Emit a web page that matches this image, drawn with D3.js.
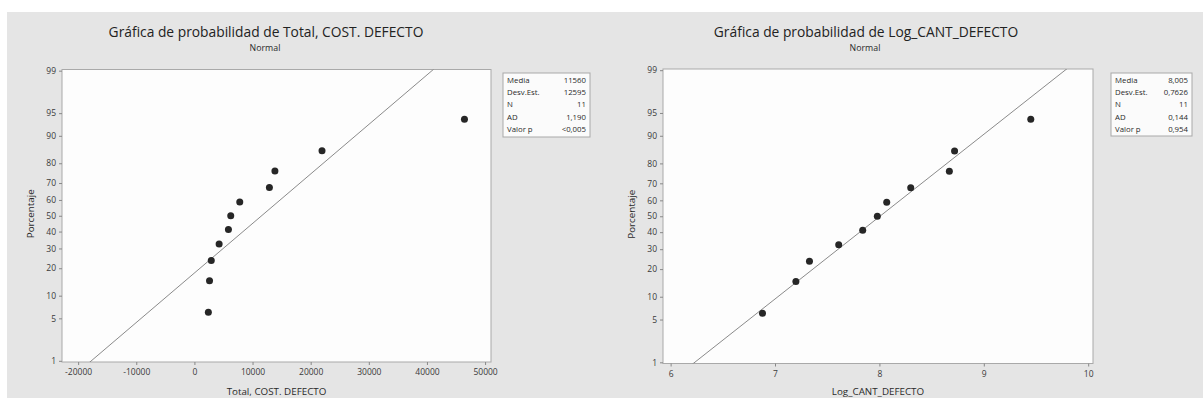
<!DOCTYPE html>
<html>
<head>
<meta charset="utf-8">
<script src="https://cdn.jsdelivr.net/npm/d3@7"></script>
<style>
  html, body { margin: 0; padding: 0; background: #ffffff; }
  svg { display: block; font-family: "Open Sans", "Noto Sans", sans-serif; }
</style>
</head>
<body>
<svg id="chart" width="1203" height="406"></svg>
<script>
// Ordered sample values for each probability plot
const costValues = [2400, 2600, 2900, 4250, 5850, 6250, 7800, 12900, 13850, 21950, 46450];
const logValues  = [6.88, 7.20, 7.33, 7.61, 7.84, 7.98, 8.07, 8.30, 8.67, 8.72, 9.45];
// Plotting positions (median ranks, %) for n = 11
const percents   = [6.1, 14.9, 23.7, 32.5, 41.2, 50.0, 58.8, 67.5, 76.3, 85.1, 93.9];

// Fitted normal parameters
const costFit = [11560, 12595];
const logFit  = [8.005, 0.7626];

// Summary table
const statLabels = ["Media", "Desv.Est.", "N", "AD", "Valor p"];
const costStats  = ["11560", "12595", "11", "1,190", "<0,005"];
const logStats   = ["8,005", "0,7626", "11", "0,144", "0,954"];

// Axis ticks
const percentTicks = [1, 5, 10, 20, 30, 40, 50, 60, 70, 80, 90, 95, 99];
const costTicks = [-20000, -10000, 0, 10000, 20000, 30000, 40000, 50000];
const logTicks  = [6, 7, 8, 9, 10];

// Inverse standard normal CDF (Acklam's rational approximation)
function probit(p) {
  const a = [-3.969683028665376e+01, 2.209460984245205e+02, -2.759285104469687e+02,
             1.383577518672690e+02, -3.066479806614716e+01, 2.506628277459239e+00];
  const b = [-5.447609879822406e+01, 1.615858368580409e+02, -1.556989798598866e+02,
             6.680131188771972e+01, -1.328068155288572e+01];
  const c = [-7.784894002430293e-03, -3.223964580411365e-01, -2.400758277161838e+00,
             -2.549671324505935e+00, 4.374664141464968e+00, 2.938163982698783e+00];
  const d = [7.784695709041462e-03, 3.224671290700398e-01, 2.445134137142996e+00,
             3.754408661907416e+00];
  const pl = 0.02425, ph = 1 - pl;
  let q, r;
  if (p < pl) {
    q = Math.sqrt(-2 * Math.log(p));
    return (((((c[0]*q+c[1])*q+c[2])*q+c[3])*q+c[4])*q+c[5]) /
           ((((d[0]*q+d[1])*q+d[2])*q+d[3])*q+1);
  }
  if (p <= ph) {
    q = p - 0.5; r = q * q;
    return (((((a[0]*r+a[1])*r+a[2])*r+a[3])*r+a[4])*r+a[5])*q /
           (((((b[0]*r+b[1])*r+b[2])*r+b[3])*r+b[4])*r+1);
  }
  q = Math.sqrt(-2 * Math.log(1 - p));
  return -(((((c[0]*q+c[1])*q+c[2])*q+c[3])*q+c[4])*q+c[5]) /
          ((((d[0]*q+d[1])*q+d[2])*q+d[3])*q+1);
}

const FONT = '"Open Sans", "Noto Sans", sans-serif';
const svg = d3.select("#chart");

// Grey page panel behind both graphs
svg.append("rect").attr("x", 7).attr("y", 12).attr("width", 1196).attr("height", 386)
  .attr("fill", "#e5e5e5");

const Z_MAX = 2.345;

function drawPlot(cfg) {
  const { x0, x1, y0, y1 } = cfg.frame;
  const g = svg.append("g");

  const x = d3.scaleLinear().domain(cfg.xDomain).range([x0, x1]);
  const z = d3.scaleLinear().domain([-Z_MAX, Z_MAX]).range([y1, y0]);
  const yOf = pct => z(probit(pct / 100));

  // plot area
  g.append("rect").attr("x", x0).attr("y", y0).attr("width", x1 - x0).attr("height", y1 - y0)
    .attr("fill", "#fdfdfd").attr("stroke", "#a9a9a9").attr("stroke-width", 1);

  // y axis (normal probability scale)
  const yAxis = d3.axisLeft(d3.scaleLinear().domain([y1, y0]).range([y1, y0]))
    .tickValues(percentTicks.map(yOf)).tickFormat((d, i) => percentTicks[i])
    .tickSize(3).tickPadding(3);
  const ya = g.append("g").attr("transform", `translate(${x0},0)`).call(yAxis)
    .attr("font-family", FONT);
  ya.select(".domain").remove();
  ya.selectAll("line").attr("stroke", "#888");
  ya.selectAll("text").attr("font-size", 8.5).attr("fill", "#3a3a3a");

  // x axis
  const xAxis = d3.axisBottom(x).tickValues(cfg.xTicks).tickFormat(d => String(d))
    .tickSize(3).tickPadding(4);
  const xa = g.append("g").attr("transform", `translate(0,${y1})`).call(xAxis)
    .attr("font-family", FONT);
  xa.select(".domain").remove();
  xa.selectAll("line").attr("stroke", "#888");
  xa.selectAll("text").attr("font-size", 8.5).attr("fill", "#3a3a3a");

  // fitted line, clipped to the plot area
  const clipId = "clip-" + cfg.id;
  g.append("clipPath").attr("id", clipId).append("rect")
    .attr("x", x0).attr("y", y0).attr("width", x1 - x0).attr("height", y1 - y0);
  const [mu, sd] = cfg.fit;
  const zs = [-3.5, 3.5];
  g.append("path")
    .attr("clip-path", `url(#${clipId})`)
    .attr("d", d3.line().x(v => x(mu + v * sd)).y(v => z(v))(zs))
    .attr("fill", "none").attr("stroke", "#8a8a8a").attr("stroke-width", 1);

  // data points
  g.selectAll("circle.pt").data(cfg.values).join("circle")
    .attr("class", "pt")
    .attr("cx", d => x(d))
    .attr("cy", (d, i) => yOf(percents[i]))
    .attr("r", 3.5)
    .attr("fill", "#262626");

  // titles
  g.append("text").attr("x", cfg.titleX).attr("y", 37).attr("text-anchor", "middle")
    .attr("font-size", 13.8).attr("fill", "#222").text(cfg.title);
  g.append("text").attr("x", cfg.titleX - 1).attr("y", 51).attr("text-anchor", "middle")
    .attr("font-size", 8.8).attr("fill", "#2a2a2a").text("Normal");
  g.append("text").attr("x", (x0 + x1) / 2).attr("y", 395).attr("text-anchor", "middle")
    .attr("font-size", 9.8).attr("fill", "#2a2a2a").text(cfg.xLabel);
  g.append("text")
    .attr("transform", `translate(${x0 - 28},${(y0 + y1) / 2 - 2}) rotate(-90)`)
    .attr("text-anchor", "middle").attr("font-size", 9.8).attr("fill", "#2a2a2a")
    .text("Porcentaje");

  // summary table
  const lb = cfg.legend;
  const lg = g.append("g");
  lg.append("rect").attr("x", lb.x).attr("y", lb.y).attr("width", lb.w).attr("height", lb.h)
    .attr("fill", "#fbfbfb").attr("stroke", "#a9a9a9");
  statLabels.forEach((s, i) => {
    const ty = lb.y + 10 + i * 12.2;
    lg.append("text").attr("x", lb.x + 4).attr("y", ty).attr("font-size", 7.8)
      .attr("fill", "#2a2a2a").text(s);
    lg.append("text").attr("x", lb.x + lb.w - 4).attr("y", ty).attr("font-size", 7.8)
      .attr("text-anchor", "end").attr("fill", "#2a2a2a").text(cfg.stats[i]);
  });
}

drawPlot({
  id: "cost",
  frame: { x0: 62, x1: 491, y0: 69.5, y1: 362 },
  xDomain: [-22776, 51017],
  xTicks: costTicks,
  values: costValues,
  fit: costFit,
  stats: costStats,
  title: "Gráfica de probabilidad de Total, COST. DEFECTO",
  titleX: 266,
  xLabel: "Total, COST. DEFECTO",
  legend: { x: 503, y: 73, w: 87, h: 64 }
});

drawPlot({
  id: "log",
  frame: { x0: 663, x1: 1093, y0: 69, y1: 363.5 },
  xDomain: [5.927, 10.046],
  xTicks: logTicks,
  values: logValues,
  fit: logFit,
  stats: logStats,
  title: "Gráfica de probabilidad de Log_CANT_DEFECTO",
  titleX: 866,
  xLabel: "Log_CANT_DEFECTO",
  legend: { x: 1111, y: 73, w: 81, h: 63 }
});
</script>
</body>
</html>
